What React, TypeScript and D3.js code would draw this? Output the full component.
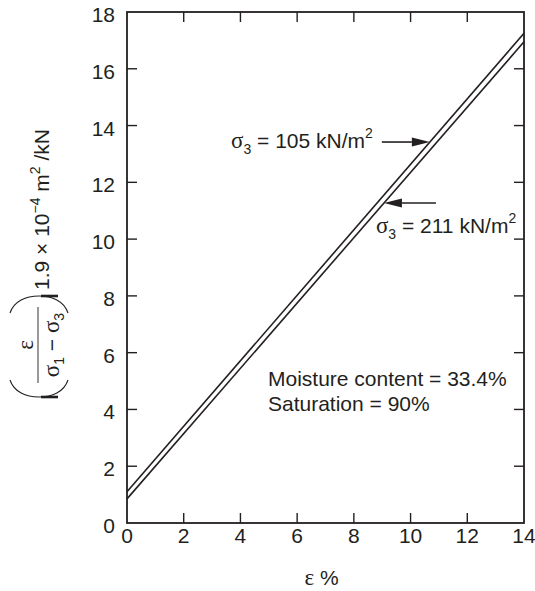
import React from "react";
import * as d3 from "d3";

// Axis ticks
const xTicks = [0, 2, 4, 6, 8, 10, 12, 14];
const yTicks = [0, 2, 4, 6, 8, 10, 12, 14, 16, 18];

// Strain (%) at the ends of each fitted line and the plotted ordinate values
const strainPct = [0, 14];
const series105 = [1.1, 17.25]; // σ3 = 105 kN/m²
const series211 = [0.85, 16.95]; // σ3 = 211 kN/m²

// Ordinates where the callout arrows meet each line
const arrow105At = 13.42;
const arrow211At = 11.27;

const noteLines = ["Moisture content = 33.4%", "Saturation = 90%"];

const W = 535;
const H = 591;
const plot = { left: 127, right: 524, top: 12, bottom: 523 };
const INK = "#231f20";
const SANS = "'Liberation Sans', Arial, Helvetica, sans-serif";
const SERIF = "'Liberation Serif', 'Times New Roman', serif";
const FS = 21;
const FS_SMALL = 14;

const x = d3.scaleLinear().domain([0, 14]).range([plot.left, plot.right]);
const y = d3.scaleLinear().domain([0, 18]).range([plot.bottom, plot.top]);

const line = d3
  .line<[number, number]>()
  .x((d) => x(d[0]))
  .y((d) => y(d[1]));

const toPairs = (vals: number[]): [number, number][] =>
  strainPct.map((s, i) => [s, vals[i]]);

// strain at which a line reaches a given ordinate
const strainAt = (vals: number[], v: number) =>
  d3.scaleLinear().domain(vals).range(strainPct)(v);

function Arrow({ x1, x2, yy }: { x1: number; x2: number; yy: number }) {
  // tail at x1, tip at x2
  const dir = Math.sign(x2 - x1);
  const headLen = 18;
  const half = 4.5;
  const base = x2 - dir * headLen;
  return (
    <g>
      <line x1={x1} y1={yy} x2={base} y2={yy} stroke={INK} strokeWidth={1.6} />
      <path
        d={`M${x2},${yy} L${base},${yy - half} L${base},${yy + half} Z`}
        fill={INK}
      />
    </g>
  );
}

function SigmaLabel({
  xx,
  yy,
  value,
  anchor,
}: {
  xx: number;
  yy: number;
  value: string;
  anchor: "start" | "end";
}) {
  return (
    <text x={xx} y={yy} fontFamily={SANS} fontSize={FS} fill={INK} textAnchor={anchor}>
      <tspan fontFamily={SERIF} fontSize={FS + 2}>σ</tspan>
      <tspan dy={6} fontSize={FS_SMALL}>3</tspan>
      <tspan dy={-6}>{` = ${value} kN/m`}</tspan>
      <tspan dy={-10} fontSize={FS_SMALL}>2</tspan>
    </text>
  );
}

export default function App() {
  const tip105x = x(strainAt(series105, arrow105At));
  const tip105y = y(arrow105At);
  const tip211x = x(strainAt(series211, arrow211At));
  const tip211y = y(arrow211At);

  return (
    <svg
      width={W}
      height={H}
      style={{ position: "absolute", left: 0, top: 0, background: "#fff" }}
    >
      {/* fitted lines */}
      <path d={line(toPairs(series105)) || ""} fill="none" stroke={INK} strokeWidth={1.6} />
      <path d={line(toPairs(series211)) || ""} fill="none" stroke={INK} strokeWidth={1.6} />

      {/* frame */}
      <rect
        x={plot.left}
        y={plot.top}
        width={plot.right - plot.left}
        height={plot.bottom - plot.top}
        fill="none"
        stroke={INK}
        strokeWidth={1.8}
      />

      {/* inward ticks on all four sides */}
      {xTicks.slice(1, -1).map((t) => (
        <g key={"xt" + t}>
          <line x1={x(t)} x2={x(t)} y1={plot.bottom} y2={plot.bottom - 10} stroke={INK} strokeWidth={1.4} />
          <line x1={x(t)} x2={x(t)} y1={plot.top} y2={plot.top + 10} stroke={INK} strokeWidth={1.4} />
        </g>
      ))}
      {yTicks.slice(1, -1).map((t) => (
        <g key={"yt" + t}>
          <line x1={plot.left} x2={plot.left + 10} y1={y(t)} y2={y(t)} stroke={INK} strokeWidth={1.4} />
          <line x1={plot.right} x2={plot.right - 10} y1={y(t)} y2={y(t)} stroke={INK} strokeWidth={1.4} />
        </g>
      ))}

      {/* tick labels */}
      {xTicks.map((t) => (
        <text
          key={"xl" + t}
          x={x(t)}
          y={plot.bottom + 20}
          textAnchor="middle"
          fontFamily={SANS}
          fontSize={FS}
          fill={INK}
        >
          {t}
        </text>
      ))}
      {yTicks.map((t) => (
        <text
          key={"yl" + t}
          x={plot.left - 12}
          y={y(t) + 10}
          textAnchor="end"
          fontFamily={SANS}
          fontSize={FS}
          fill={INK}
        >
          {t}
        </text>
      ))}

      {/* x axis title */}
      <text x={(plot.left + plot.right) / 2 - 4} y={585} textAnchor="middle" fontSize={FS} fill={INK} fontFamily={SANS}>
        <tspan fontFamily={SERIF} fontSize={FS + 2}>ε</tspan>
        <tspan> %</tspan>
      </text>

      {/* y axis title, drawn rotated: local (lx, ly) -> screen (ly, -lx) */}
      <g transform="rotate(-90)">
        {/* left bracket */}
        <path
          d="M-380,10 C-392,14 -397,26 -397,39 C-397,52 -392,64 -380,68"
          fill="none"
          stroke={INK}
          strokeWidth={1.1}
        />
        <line x1={-397} x2={-397} y1={41} y2={58} stroke={INK} strokeWidth={2.6} />
        {/* right bracket */}
        <path
          d="M-313,10 C-301,14 -296,26 -296,39 C-296,52 -301,64 -313,68"
          fill="none"
          stroke={INK}
          strokeWidth={1.1}
        />
        <line x1={-296} x2={-296} y1={41} y2={58} stroke={INK} strokeWidth={2.6} />
        {/* fraction */}
        <text x={-345} y={33} textAnchor="middle" fontFamily={SERIF} fontSize={FS + 2} fill={INK}>
          ε
        </text>
        <line x1={-383} x2={-307} y1={38} y2={38} stroke="#555" strokeWidth={1.2} />
        <text x={-345} y={59} textAnchor="middle" fontFamily={SANS} fontSize={FS} fill={INK}>
          <tspan fontFamily={SERIF} fontSize={FS + 2}>σ</tspan>
          <tspan dy={5} fontSize={FS_SMALL}>1</tspan>
          <tspan dy={-5}>{" − "}</tspan>
          <tspan fontFamily={SERIF} fontSize={FS + 2}>σ</tspan>
          <tspan dy={5} fontSize={FS_SMALL}>3</tspan>
        </text>
        {/* scale factor and units */}
        <text x={-290} y={49} fontFamily={SANS} fontSize={FS} fill={INK} style={{ whiteSpace: "pre" }}>
          <tspan>{"1.9 × 10"}</tspan>
          <tspan dy={-9} fontSize={FS_SMALL}>{"−4"}</tspan>
          <tspan dy={9}>{" m"}</tspan>
          <tspan dy={-9} fontSize={FS_SMALL}>{"2"}</tspan>
          <tspan dy={9}>{" /kN"}</tspan>
        </text>
      </g>

      {/* callouts */}
      <Arrow x1={tip105x - 48} x2={tip105x} yy={tip105y} />
      <SigmaLabel xx={tip105x - 57} yy={tip105y + 6} value="105" anchor="end" />

      <Arrow x1={tip211x + 52} x2={tip211x} yy={tip211y} />
      <SigmaLabel xx={tip211x - 8} yy={tip211y + 30} value="211" anchor="start" />

      {/* test conditions */}
      {noteLines.map((s, i) => (
        <text key={s} x={268} y={386 + i * 25} fontFamily={SANS} fontSize={FS} fill={INK}>
          {s}
        </text>
      ))}
    </svg>
  );
}
